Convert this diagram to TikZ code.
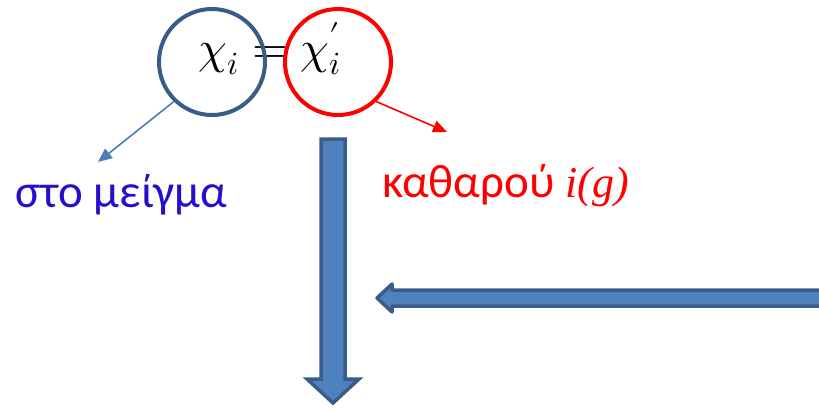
\documentclass[tikz,border=0pt]{standalone}
\usepackage{fontspec}
\usepackage{unicode-math}
\setmainfont{Carlito}
\setmathfont{Latin Modern Math}
\newfontfamily\timesfont{Liberation Serif}
\usetikzlibrary{arrows.meta,positioning,calc}
\definecolor{boxblue}{HTML}{4F81BD}
\definecolor{edgeblue}{HTML}{385D8A}
\definecolor{linkblue}{HTML}{4A7EBB}
\definecolor{textblue}{RGB}{35,15,205}
\definecolor{pured}{RGB}{255,0,0}

\begin{document}
\begin{tikzpicture}[
  x=1pt, y=-1pt,
  >={Triangle[length=14pt, width=12pt]},
  ring/.style={circle, line width=4pt, minimum size=106pt, inner sep=0pt},
  lbl/.style={anchor=base west, inner sep=0pt, font=\fontsize{47}{50}\selectfont},
  link/.style={->, line width=1.6pt},
  block/.style={fill=boxblue, draw=edgeblue, line width=3.5pt},
]
\useasboundingbox (0,0) rectangle (819,408);

% the equation and its two rings
\node[anchor=base, inner sep=0pt, font=\fontsize{46}{50}\selectfont] (eq) at (270,63) {$\chi_i = \chi_i'$};
\node[ring, draw=edgeblue] (mix)  at (212,62) {};
\node[ring, draw=pured]    (pure) at (338,62) {};

% labels
\node[lbl, text=textblue] (mixlbl)  at (15,207)  {στο μείγμα};
\node[lbl, text=pured]    (purelbl) at (382,197) {καθαρού {\timesfont\itshape\fontsize{44}{48}\selectfont i(g)}};

\coordinate (mixend)  at (98,162);
\coordinate (pureend) at (447,132);
\draw[link, draw=linkblue, fill=linkblue] (mix.226) -- (mixend);
\draw[link, draw=pured, fill=pured] (pure.-46) -- (pureend);

% block arrows
\coordinate (downtop) at (333,139);
\coordinate (downtip) at (333,403);
\draw[block, line join=miter]
  ($(downtop)+(-12,0)$) -- ($(downtop)+(12,0)$) -- (345,379) -- (359,379)
  -- (downtip) -- (307,379) -- (321,379) -- cycle;

\coordinate (lefttip) at (377,298);
\draw[block, line join=round]
  (824,290) -- (392,290) -- (392,284) -- (lefttip) -- (392,312) -- (392,306)
  -- (824,306) -- cycle;

\end{tikzpicture}
\end{document}
